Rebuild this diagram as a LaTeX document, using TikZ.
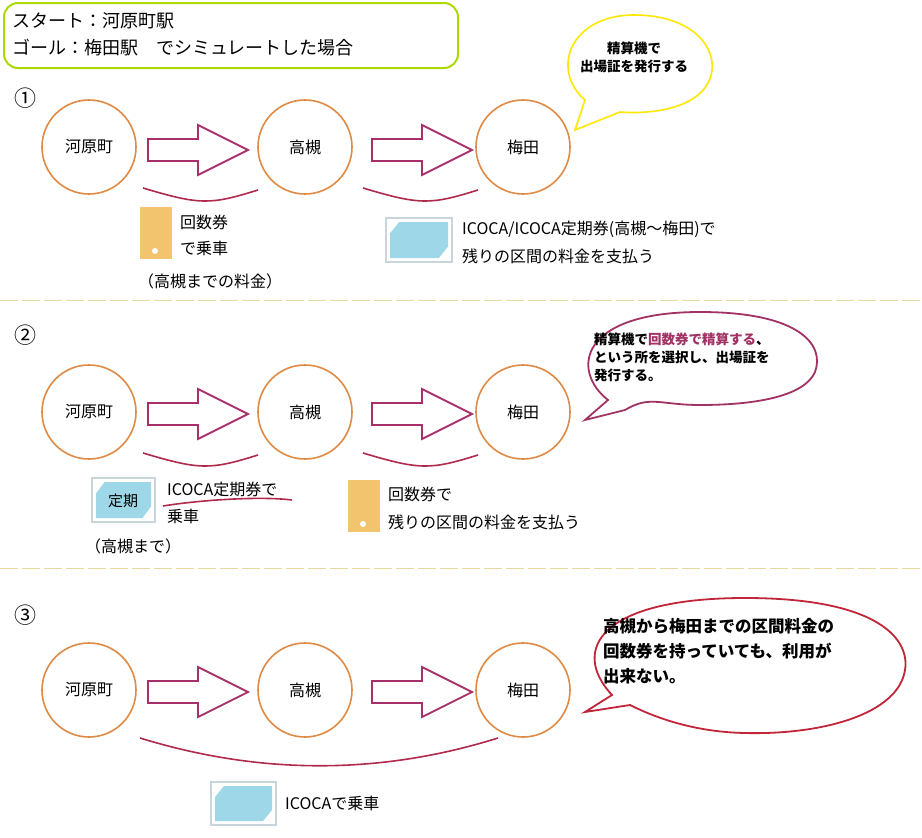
\documentclass[tikz,border=0pt]{standalone}
\usepackage{fontspec}
\setmainfont{Noto Sans CJK JP}
\definecolor{stc}{HTML}{E08B45}
\definecolor{arc1}{HTML}{B02A4C}
\definecolor{arrc}{HTML}{A8306A}
\definecolor{tkc}{HTML}{F2C46E}
\definecolor{icc}{HTML}{9ED8E8}
\definecolor{bub2}{HTML}{A13264}
\definecolor{bub3}{HTML}{C0253A}
\definecolor{sepc}{HTML}{E8D9A0}
\begin{document}
\begin{tikzpicture}[x=1pt,y=-1pt,
  st/.style={circle,draw=stc,line width=1.6pt,minimum size=94pt,font=\fontsize{16}{18}\selectfont},
  arr/.style={draw=arrc,line width=1.8pt,fill=white},
  arc/.style={draw=arc1,line width=1.6pt},
  sep/.style={draw=sepc,line width=1pt,dash pattern=on 18pt off 4pt},
  tx/.style={anchor=west,font=\fontsize{16}{20}\selectfont,inner sep=0pt},
  bt/.style={anchor=north west,font=\fontsize{13.5}{18}\selectfont\bfseries,align=left,inner sep=0pt},
  tick/.style={fill=tkc,draw=none},
  ic/.style={draw=cyan!25!gray!40,line width=1.2pt,fill=white}
]
\useasboundingbox (0,0) rectangle (922,838);
\fill[white] (0,0) rectangle (922,838);
% title
\draw[draw=lime!70!olive,line width=2pt,rounded corners=14pt] (4,3) rectangle (458,68);
\node[tx,font=\fontsize{18}{20}\selectfont] (t1) at (12,21) {スタート：河原町駅};
\node[tx,font=\fontsize{18}{20}\selectfont] (t2) at (12,48) {ゴール：梅田駅　でシミュレートした場合};
% separators
\draw[sep] (0,300) -- (922,300);
\draw[sep] (0,568) -- (922,568);
\newcommand\myarrow[2]{%
 \draw[arr] (#1,#2-11) -- (#1+50,#2-11) -- (#1+50,#2-25) -- (#1+100,#2) -- (#1+50,#2+25) -- (#1+50,#2+11) -- (#1,#2+11) -- cycle;}
\newcommand\mycard[4]{% x y w h
 \draw[ic] (#1,#2) rectangle (#1+#3,#2+#4);
 \fill[icc] (#1+#3*0.2,#2+4) -- (#1+#3-4,#2+4) -- (#1+#3-4,#2+#4*0.65) -- (#1+#3*0.8,#2+#4-4) -- (#1+4,#2+#4-4) -- (#1+4,#2+#4*0.35) -- cycle;}
\newcommand\myticket[2]{%
 \fill[tick] (#1,#2) rectangle (#1+32,#2+52); \fill[white] (#1+15,#2+44) circle (3pt);}
% ===== row 1
\node (n1) at (25,98) {\fontsize{22}{22}\selectfont ①};
\node[st] (a1) at (89,147) {河原町};
\node[st] (b1) at (305,147) {高槻};
\node[st] (c1) at (523,147) {梅田};
\myarrow{148}{150}
\myarrow{372}{150}
\draw[arc] (143,188) .. controls (200,205) and (210,205) .. (258,190);
\draw[arc] (363,188) .. controls (420,205) and (430,205) .. (478,190);
\myticket{140}{207}
\node[tx] (r1a) at (180,222) {回数券};
\node[tx] (r1b) at (180,248) {で乗車};
\node[tx] (r1c) at (138,281) {（高槻までの料金）};
\mycard{386}{218}{66}{44}
\node[tx] (r1d) at (462,229) {ICOCA/ICOCA定期券(高槻～梅田)で};
\node[tx] (r1e) at (462,256) {残りの区間の料金を支払う};
\draw[draw=yellow!90!orange,line width=1.6pt,fill=white] (575,130) -- (585,100) .. controls (550,70) and (570,15) .. (634,15) .. controls (690,15) and (715,45) .. (712,70) .. controls (708,105) and (660,115) .. (620,112) -- cycle;
\node[bt,align=center,anchor=center] (bb1) at (634,57) {精算機で\\出場証を発行する};
% ===== row 2
\node (n2) at (25,335) {\fontsize{22}{22}\selectfont ②};
\node[st] (a2) at (89,412) {河原町};
\node[st] (b2) at (305,412) {高槻};
\node[st] (c2) at (523,412) {梅田};
\myarrow{148}{414}
\myarrow{372}{414}
\draw[arc] (143,453) .. controls (200,470) and (210,470) .. (258,455);
\draw[arc] (363,453) .. controls (420,470) and (430,470) .. (478,455);
\mycard{92}{478}{63}{44}
\node[font=\fontsize{15}{16}\selectfont] (tk) at (123,501) {定期};
\node[tx] (r2a) at (167,489) {ICOCA定期券で};
\draw[arc] (163,506) .. controls (200,500) and (260,496) .. (292,500);
\node[tx] (r2b) at (167,516) {乗車};
\node[tx] (r2c) at (85,546) {（高槻まで）};
\myticket{348}{480}
\node[tx] (r2d) at (388,494) {回数券で};
\node[tx] (r2e) at (388,522) {残りの区間の料金を支払う};
\draw[draw=bub2,line width=1.8pt,fill=white] (585,420) -- (608,400) .. controls (570,370) and (580,312) .. (700,312) .. controls (800,312) and (825,345) .. (815,372) .. controls (805,395) and (760,405) .. (700,405) .. controls (660,405) and (650,395) .. (625,410) -- cycle;
\node[bt] (bb2) at (594,333) {精算機で\textcolor{bub2}{回数券で精算する}、\\という所を選択し、出場証を\\発行する。};
% ===== row 3
\node (n3) at (25,615) {\fontsize{22}{22}\selectfont ③};
\node[st] (a3) at (89,690) {河原町};
\node[st] (b3) at (305,690) {高槻};
\node[st] (c3) at (523,690) {梅田};
\myarrow{148}{692}
\myarrow{372}{692}
\draw[arc] (140,738) .. controls (260,775) and (380,775) .. (498,738);
\mycard{211}{782}{65}{43}
\node[tx] (r3a) at (285,803) {ICOCAで乗車};
\draw[draw=bub3,line width=1.8pt,fill=white] (585,712) -- (612,695) .. controls (570,650) and (600,598) .. (745,598) .. controls (880,598) and (910,640) .. (905,670) .. controls (898,715) and (820,735) .. (745,733) .. controls (690,732) and (650,715) .. (630,705) -- cycle;
\node[bt,font=\fontsize{16.5}{25}\selectfont\bfseries] (bb3) at (603,618) {高槻から梅田までの区間料金の\\回数券を持っていても、利用が\\出来ない。};
\end{tikzpicture}
\end{document}
